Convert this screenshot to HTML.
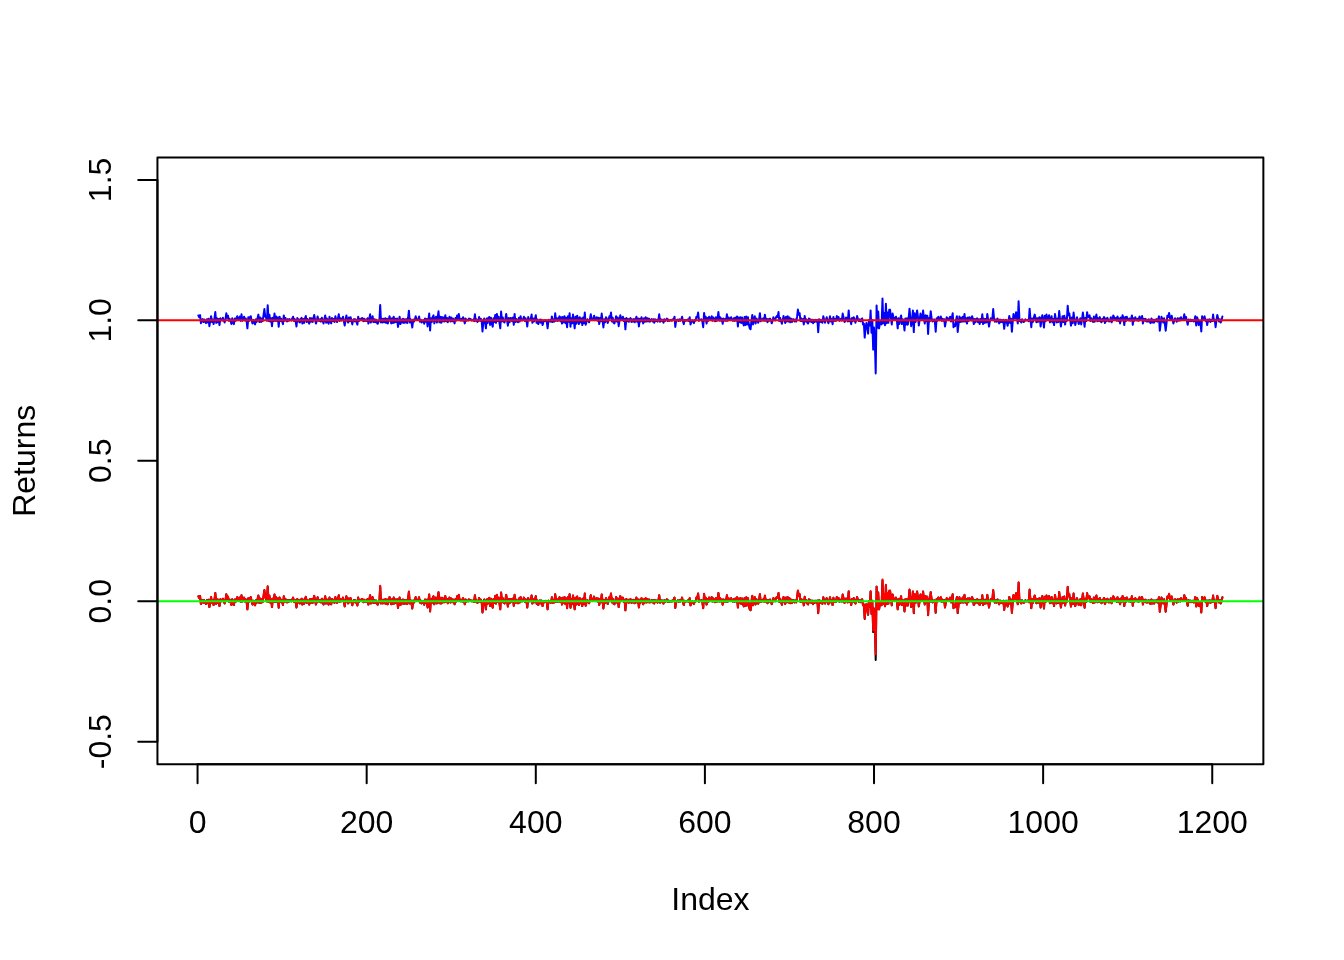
<!DOCTYPE html>
<html><head><meta charset="utf-8"><title>Returns</title>
<style>
html,body{margin:0;padding:0;background:#fff;}
body{width:1344px;height:960px;overflow:hidden;}
svg{display:block;}
text{font-family:"Liberation Sans",sans-serif;font-size:32px;fill:#000;}
</style></head><body>
<svg width="1344" height="960" viewBox="0 0 1344 960">
<rect width="1344" height="960" fill="#fff"/>
<defs><clipPath id="c"><rect x="157.44" y="157.44" width="1105.92" height="606.72"/></clipPath></defs>
<g clip-path="url(#c)" fill="none" stroke-linejoin="round" stroke-linecap="round">
<path d="M198.4 596.4 L199.2 598.1 L200.1 596.0 L200.9 604.1 L201.8 601.2 L202.6 600.0 L203.5 603.0 L204.3 600.3 L205.2 602.4 L206.0 604.0 L206.9 600.1 L207.7 603.3 L208.5 599.7 L209.4 607.1 L210.2 601.8 L211.1 597.1 L211.9 602.7 L212.8 600.4 L213.6 605.0 L214.5 599.3 L215.3 593.1 L216.2 603.8 L217.0 599.2 L217.8 603.1 L218.7 599.7 L219.5 606.1 L220.4 599.2 L221.2 601.0 L222.1 601.3 L222.9 598.7 L223.8 601.4 L224.6 603.4 L225.5 600.2 L226.3 594.3 L227.1 598.6 L228.0 596.6 L228.8 601.6 L229.7 599.7 L230.5 601.7 L231.4 605.0 L232.2 599.2 L233.1 602.8 L233.9 605.0 L234.8 599.4 L235.6 601.7 L236.5 599.1 L237.3 597.1 L238.1 600.2 L239.0 600.8 L239.8 597.5 L240.7 601.8 L241.5 595.3 L242.4 601.6 L243.2 599.9 L244.1 597.6 L244.9 601.5 L245.8 599.4 L246.6 601.5 L247.4 609.3 L248.3 598.2 L249.1 601.8 L250.0 597.9 L250.8 597.1 L251.7 601.5 L252.5 604.5 L253.4 600.7 L254.2 603.0 L255.1 605.3 L255.9 600.2 L256.7 602.8 L257.6 598.9 L258.4 595.6 L259.3 602.9 L260.1 598.4 L261.0 602.9 L261.8 599.3 L262.7 602.1 L263.5 596.4 L264.4 590.2 L265.2 597.4 L266.0 598.3 L266.9 601.5 L267.7 586.6 L268.6 601.9 L269.4 595.7 L270.3 602.5 L271.1 599.0 L272.0 607.1 L272.8 598.7 L273.7 601.9 L274.5 594.6 L275.3 601.8 L276.2 597.3 L277.0 601.8 L277.9 598.4 L278.7 607.7 L279.6 597.6 L280.4 602.0 L281.3 599.7 L282.1 602.2 L283.0 605.0 L283.8 596.3 L284.6 601.7 L285.5 598.9 L286.3 601.7 L287.2 602.4 L288.0 600.0 L288.9 601.6 L289.7 600.0 L290.6 601.0 L291.4 601.3 L292.3 599.4 L293.1 597.6 L294.0 602.0 L294.8 600.0 L295.6 601.9 L296.5 607.5 L297.3 598.9 L298.2 602.5 L299.0 600.3 L299.9 603.4 L300.7 600.1 L301.6 598.7 L302.4 604.5 L303.3 599.8 L304.1 603.8 L304.9 599.4 L305.8 596.9 L306.6 602.8 L307.5 599.9 L308.3 602.4 L309.2 604.5 L310.0 598.9 L310.9 602.7 L311.7 599.1 L312.6 603.0 L313.4 599.5 L314.2 595.9 L315.1 600.6 L315.9 604.5 L316.8 602.0 L317.6 597.3 L318.5 601.0 L319.3 601.9 L320.2 600.0 L321.0 602.5 L321.9 598.7 L322.7 601.5 L323.5 604.5 L324.4 600.2 L325.2 596.3 L326.1 603.6 L326.9 599.4 L327.8 603.1 L328.6 604.5 L329.5 597.6 L330.3 602.5 L331.2 604.3 L332.0 598.9 L332.8 601.9 L333.7 599.9 L334.5 602.9 L335.4 597.1 L336.2 600.8 L337.1 602.9 L337.9 599.8 L338.8 595.3 L339.6 601.9 L340.5 599.2 L341.3 601.3 L342.1 600.5 L343.0 597.6 L343.8 601.8 L344.7 606.4 L345.5 600.8 L346.4 596.3 L347.2 601.2 L348.1 603.4 L348.9 598.4 L349.8 602.2 L350.6 598.2 L351.5 601.5 L352.3 605.3 L353.1 601.1 L354.0 600.0 L354.8 602.2 L355.7 600.3 L356.5 602.9 L357.4 605.5 L358.2 597.6 L359.1 601.8 L359.9 600.0 L360.8 600.8 L361.6 599.2 L362.4 599.0 L363.3 602.2 L364.1 599.7 L365.0 601.9 L365.8 600.5 L366.7 601.9 L367.5 599.1 L368.4 604.5 L369.2 600.2 L370.1 595.3 L370.9 603.5 L371.7 600.5 L372.6 597.1 L373.4 603.0 L374.3 600.1 L375.1 603.1 L376.0 600.5 L376.8 603.5 L377.7 604.7 L378.5 602.7 L379.4 601.3 L380.2 586.3 L381.0 603.4 L381.9 599.7 L382.7 603.4 L383.6 599.7 L384.4 603.2 L385.3 599.1 L386.1 603.8 L387.0 599.6 L387.8 604.3 L388.7 601.1 L389.5 597.1 L390.3 600.3 L391.2 604.3 L392.0 599.2 L392.9 603.9 L393.7 597.6 L394.6 603.4 L395.4 599.6 L396.3 603.0 L397.1 599.3 L398.0 607.9 L398.8 602.7 L399.6 597.6 L400.5 605.0 L401.3 600.3 L402.2 603.5 L403.0 599.6 L403.9 603.9 L404.7 600.2 L405.6 603.5 L406.4 600.0 L407.3 604.0 L408.1 598.9 L408.9 591.7 L409.8 603.4 L410.6 600.1 L411.5 603.2 L412.3 608.5 L413.2 600.5 L414.0 602.5 L414.9 600.3 L415.7 597.1 L416.6 600.5 L417.4 600.8 L418.3 600.3 L419.1 597.3 L419.9 602.6 L420.8 600.6 L421.6 603.4 L422.5 601.6 L423.3 601.3 L424.2 604.7 L425.0 599.4 L425.9 602.7 L426.7 599.8 L427.6 607.5 L428.4 600.5 L429.2 594.6 L430.1 611.4 L430.9 599.1 L431.8 603.0 L432.6 598.1 L433.5 596.3 L434.3 604.3 L435.2 600.0 L436.0 597.6 L436.9 603.4 L437.7 598.4 L438.5 592.3 L439.4 603.2 L440.2 597.7 L441.1 603.6 L441.9 597.8 L442.8 602.5 L443.6 598.5 L444.5 602.3 L445.3 596.1 L446.2 602.1 L447.0 598.9 L447.8 603.2 L448.7 600.0 L449.5 597.6 L450.4 602.5 L451.2 598.4 L452.1 602.3 L452.9 599.4 L453.8 601.6 L454.6 604.3 L455.5 598.9 L456.3 601.5 L457.1 596.3 L458.0 600.3 L458.8 594.9 L459.7 600.5 L460.5 601.3 L461.4 599.7 L462.2 601.5 L463.1 598.2 L463.9 600.8 L464.8 604.3 L465.6 599.4 L466.4 601.6 L467.3 600.6 L468.1 601.4 L469.0 599.4 L469.8 600.2 L470.7 600.0 L471.5 601.2 L472.4 601.3 L473.2 600.4 L474.1 602.0 L474.9 595.3 L475.8 601.7 L476.6 600.5 L477.4 602.9 L478.3 601.4 L479.1 597.9 L480.0 601.8 L480.8 599.6 L481.7 602.1 L482.5 612.5 L483.4 602.3 L484.2 599.4 L485.1 602.9 L485.9 609.3 L486.7 599.5 L487.6 603.9 L488.4 598.7 L489.3 597.9 L490.1 606.0 L491.0 598.7 L491.8 603.8 L492.7 607.7 L493.5 599.1 L494.4 603.0 L495.2 595.9 L496.0 603.6 L496.9 594.9 L497.7 602.0 L498.6 597.7 L499.4 603.2 L500.3 609.3 L501.1 592.5 L502.0 602.3 L502.8 598.3 L503.7 602.5 L504.5 603.4 L505.3 600.3 L506.2 594.9 L507.0 600.9 L507.9 606.6 L508.7 599.0 L509.6 603.2 L510.4 598.9 L511.3 599.2 L512.1 602.0 L513.0 598.5 L513.8 605.8 L514.6 594.9 L515.5 602.9 L516.3 599.7 L517.2 602.4 L518.0 603.2 L518.9 598.6 L519.7 602.5 L520.6 597.1 L521.4 601.2 L522.3 601.3 L523.1 600.2 L523.9 597.6 L524.8 601.8 L525.6 599.2 L526.5 601.7 L527.3 607.5 L528.2 597.9 L529.0 600.7 L529.9 601.3 L530.7 600.2 L531.6 595.6 L532.4 603.6 L533.3 599.3 L534.1 602.3 L534.9 600.0 L535.8 596.1 L536.6 603.7 L537.5 600.4 L538.3 605.0 L539.2 602.1 L540.0 600.4 L540.9 603.6 L541.7 600.6 L542.6 606.1 L543.4 603.0 L544.2 601.1 L545.1 602.0 L545.9 600.9 L546.8 602.5 L547.6 609.3 L548.5 600.7 L549.3 602.3 L550.2 601.0 L551.0 602.7 L551.9 597.3 L552.7 602.9 L553.5 600.3 L554.4 602.4 L555.2 594.3 L556.1 601.7 L556.9 599.1 L557.8 601.9 L558.6 599.6 L559.5 597.3 L560.3 602.1 L561.2 598.2 L562.0 604.5 L562.8 597.8 L563.7 603.1 L564.5 597.1 L565.4 604.1 L566.2 598.6 L567.1 608.2 L567.9 597.2 L568.8 602.6 L569.6 594.3 L570.5 607.7 L571.3 599.2 L572.1 604.2 L573.0 595.6 L573.8 601.6 L574.7 609.3 L575.5 597.7 L576.4 604.6 L577.2 596.6 L578.1 600.5 L578.9 605.0 L579.8 598.2 L580.6 603.2 L581.4 599.5 L582.3 606.1 L583.1 598.4 L584.0 604.1 L584.8 593.6 L585.7 605.8 L586.5 602.6 L587.4 600.2 L588.2 601.0 L589.1 603.2 L589.9 600.0 L590.8 595.3 L591.6 600.5 L592.4 600.8 L593.3 599.6 L594.1 596.6 L595.0 601.1 L595.8 600.1 L596.7 598.2 L597.5 601.6 L598.4 598.6 L599.2 605.0 L600.1 599.0 L600.9 602.2 L601.7 594.6 L602.6 601.5 L603.4 608.5 L604.3 600.1 L605.1 603.1 L606.0 598.2 L606.8 599.9 L607.7 604.0 L608.5 601.2 L609.4 597.1 L610.2 598.5 L611.0 593.6 L611.9 602.3 L612.7 598.7 L613.6 603.7 L614.4 604.3 L615.3 601.2 L616.1 597.1 L617.0 602.5 L617.8 598.4 L618.7 607.1 L619.5 601.5 L620.3 596.1 L621.2 600.3 L622.0 600.3 L622.9 597.6 L623.7 601.9 L624.6 599.8 L625.4 610.3 L626.3 599.0 L627.1 602.3 L628.0 599.8 L628.8 602.7 L629.6 600.4 L630.5 599.0 L631.3 602.8 L632.2 600.3 L633.0 602.5 L633.9 599.9 L634.7 603.2 L635.6 601.0 L636.4 597.6 L637.3 602.6 L638.1 599.4 L638.9 607.5 L639.8 599.7 L640.6 602.5 L641.5 598.2 L642.3 601.0 L643.2 604.3 L644.0 599.2 L644.9 602.6 L645.7 598.2 L646.6 602.4 L647.4 599.1 L648.2 602.3 L649.1 599.5 L649.9 602.6 L650.8 601.0 L651.6 600.0 L652.5 602.4 L653.3 600.2 L654.2 603.6 L655.0 600.1 L655.9 602.0 L656.7 600.6 L657.6 602.6 L658.4 600.7 L659.2 595.3 L660.1 602.7 L660.9 600.1 L661.8 601.8 L662.6 600.6 L663.5 603.6 L664.3 600.2 L665.2 601.8 L666.0 600.8 L666.9 599.4 L667.7 602.0 L668.5 600.5 L669.4 601.8 L670.2 601.3 L671.1 600.8 L671.9 601.6 L672.8 600.2 L673.6 600.5 L674.5 597.6 L675.3 607.9 L676.2 600.9 L677.0 601.5 L677.8 600.4 L678.7 601.9 L679.5 600.2 L680.4 601.5 L681.2 600.5 L682.1 597.6 L682.9 602.2 L683.8 605.0 L684.6 600.8 L685.5 601.5 L686.3 600.9 L687.1 601.5 L688.0 600.2 L688.8 601.9 L689.7 598.2 L690.5 605.3 L691.4 602.7 L692.2 601.3 L693.1 602.4 L693.9 604.0 L694.8 600.9 L695.6 601.5 L696.4 597.6 L697.3 598.3 L698.1 593.6 L699.0 601.8 L699.8 600.3 L700.7 600.8 L701.5 600.2 L702.4 602.5 L703.2 608.2 L704.1 593.9 L704.9 601.5 L705.7 597.7 L706.6 604.5 L707.4 599.0 L708.3 601.7 L709.1 597.6 L710.0 600.8 L710.8 600.7 L711.7 597.1 L712.5 601.6 L713.4 598.4 L714.2 601.4 L715.1 602.2 L715.9 598.2 L716.7 601.8 L717.6 599.6 L718.4 593.1 L719.3 601.6 L720.1 598.1 L721.0 601.6 L721.8 599.5 L722.7 604.7 L723.5 599.5 L724.4 601.6 L725.2 599.9 L726.0 601.8 L726.9 595.3 L727.7 601.7 L728.6 598.4 L729.4 600.8 L730.3 599.5 L731.1 598.2 L732.0 600.8 L732.8 601.6 L733.7 599.2 L734.5 601.8 L735.3 598.5 L736.2 601.5 L737.0 597.3 L737.9 607.5 L738.7 598.4 L739.6 602.9 L740.4 598.2 L741.3 603.9 L742.1 598.4 L743.0 603.8 L743.8 606.4 L744.6 598.0 L745.5 605.9 L746.3 597.3 L747.2 605.3 L748.0 598.2 L748.9 605.7 L749.7 609.3 L750.6 610.2 L751.4 601.8 L752.3 595.9 L753.1 605.3 L753.9 600.8 L754.8 597.2 L755.6 604.4 L756.5 599.3 L757.3 601.1 L758.2 603.6 L759.0 601.0 L759.9 594.2 L760.7 602.1 L761.6 600.3 L762.4 601.3 L763.2 599.3 L764.1 601.7 L764.9 595.7 L765.8 601.6 L766.6 599.8 L767.5 603.2 L768.3 600.0 L769.2 601.6 L770.0 599.5 L770.9 600.9 L771.7 604.2 L772.6 601.7 L773.4 598.1 L774.2 600.6 L775.1 601.3 L775.9 598.4 L776.8 597.0 L777.6 597.9 L778.5 593.1 L779.3 602.0 L780.2 598.8 L781.0 601.9 L781.9 604.7 L782.7 601.0 L783.5 597.0 L784.4 600.5 L785.2 603.9 L786.1 597.6 L786.9 602.3 L787.8 597.2 L788.6 602.4 L789.5 598.3 L790.3 603.2 L791.2 599.6 L792.0 602.9 L792.8 600.1 L793.7 600.2 L794.5 602.4 L795.4 600.5 L796.2 602.4 L797.1 597.6 L797.9 590.7 L798.8 595.7 L799.6 594.2 L800.5 601.8 L801.3 599.3 L802.1 602.0 L803.0 599.9 L803.8 605.3 L804.7 596.8 L805.5 602.3 L806.4 600.2 L807.2 603.3 L808.1 604.4 L808.9 599.3 L809.8 602.3 L810.6 600.3 L811.4 603.0 L812.3 600.7 L813.1 604.2 L814.0 600.7 L814.8 602.7 L815.7 600.7 L816.5 602.5 L817.4 600.6 L818.2 613.3 L819.1 600.2 L819.9 602.9 L820.7 600.7 L821.6 603.1 L822.4 603.6 L823.3 597.2 L824.1 600.4 L825.0 603.6 L825.8 601.1 L826.7 598.1 L827.5 601.2 L828.4 604.2 L829.2 601.3 L830.0 597.2 L830.9 602.3 L831.7 600.0 L832.6 605.1 L833.4 597.8 L834.3 601.8 L835.1 600.0 L836.0 601.8 L836.8 597.0 L837.7 600.7 L838.5 597.9 L839.4 601.7 L840.2 601.3 L841.0 599.6 L841.9 601.6 L842.7 594.5 L843.6 598.5 L844.4 602.8 L845.3 602.2 L846.1 598.4 L847.0 600.2 L847.8 602.4 L848.7 591.4 L849.5 602.1 L850.3 600.0 L851.2 605.1 L852.0 599.0 L852.9 602.0 L853.7 598.1 L854.6 600.4 L855.4 603.6 L856.3 600.7 L857.1 597.0 L858.0 600.4 L858.8 601.9 L859.6 600.3 L860.5 602.2 L861.3 600.1 L862.2 599.3 L863.0 605.3 L863.9 604.5 L864.7 619.0 L865.6 608.5 L866.4 603.9 L867.3 608.4 L868.1 614.8 L868.9 601.0 L869.8 606.4 L870.6 591.4 L871.5 613.9 L872.3 600.8 L873.2 632.1 L874.0 608.5 L874.9 624.7 L875.7 660.1 L876.6 586.8 L877.4 608.8 L878.2 592.5 L879.1 609.4 L879.9 604.0 L880.8 602.7 L881.6 605.3 L882.5 580.3 L883.3 604.1 L884.2 594.1 L885.0 606.3 L885.9 585.2 L886.7 604.2 L887.5 593.5 L888.4 603.6 L889.2 590.9 L890.1 590.8 L890.9 599.0 L891.8 605.3 L892.6 594.6 L893.5 598.3 L894.3 600.8 L895.2 599.6 L896.0 597.6 L896.9 601.5 L897.7 609.3 L898.5 599.0 L899.4 604.8 L900.2 599.8 L901.1 596.3 L901.9 605.0 L902.8 600.1 L903.6 603.4 L904.5 611.4 L905.3 599.3 L906.2 605.4 L907.0 599.2 L907.8 605.6 L908.7 598.9 L909.5 589.8 L910.4 599.2 L911.2 607.1 L912.1 600.9 L912.9 591.5 L913.8 613.3 L914.6 594.2 L915.5 603.0 L916.3 597.7 L917.1 591.5 L918.0 598.4 L918.8 606.4 L919.7 600.6 L920.5 594.6 L921.4 599.3 L922.2 600.3 L923.1 591.5 L923.9 599.5 L924.8 604.5 L925.6 596.1 L926.4 602.2 L927.3 596.7 L928.1 615.2 L929.0 599.0 L929.8 602.0 L930.7 592.2 L931.5 598.5 L932.4 602.4 L933.2 601.8 L934.1 600.2 L934.9 602.9 L935.7 612.8 L936.6 599.0 L937.4 601.6 L938.3 597.6 L939.1 600.8 L940.0 601.1 L940.8 597.3 L941.7 601.7 L942.5 599.6 L943.4 601.7 L944.2 600.1 L945.0 607.5 L945.9 602.2 L946.7 598.2 L947.6 599.5 L948.4 600.8 L949.3 599.4 L950.1 597.6 L951.0 602.4 L951.8 599.0 L952.7 594.3 L953.5 608.2 L954.4 605.5 L955.2 607.1 L956.0 601.4 L956.9 597.1 L957.7 613.1 L958.6 604.5 L959.4 597.3 L960.3 602.9 L961.1 598.7 L962.0 602.6 L962.8 597.6 L963.7 602.5 L964.5 594.9 L965.3 602.5 L966.2 599.0 L967.0 604.5 L967.9 598.4 L968.7 601.8 L969.6 598.2 L970.4 600.3 L971.3 601.3 L972.1 597.1 L973.0 600.0 L973.8 605.0 L974.6 600.0 L975.5 603.2 L976.3 600.0 L977.2 599.2 L978.0 603.2 L978.9 600.1 L979.7 605.0 L980.6 600.0 L981.4 602.8 L982.3 595.3 L983.1 605.0 L983.9 599.7 L984.8 603.8 L985.6 599.8 L986.5 603.3 L987.3 594.9 L988.2 601.6 L989.0 607.5 L989.9 602.0 L990.7 599.2 L991.6 600.8 L992.4 599.5 L993.2 590.2 L994.1 600.4 L994.9 602.6 L995.8 600.4 L996.6 602.6 L997.5 599.4 L998.3 601.8 L999.2 604.3 L1000.0 600.4 L1000.9 603.0 L1001.7 601.0 L1002.5 603.1 L1003.4 600.7 L1004.2 609.8 L1005.1 601.9 L1005.9 600.7 L1006.8 603.0 L1007.6 606.6 L1008.5 601.6 L1009.3 596.9 L1010.2 603.9 L1011.0 599.6 L1011.9 612.8 L1012.7 602.7 L1013.5 595.1 L1014.4 599.3 L1015.2 599.3 L1016.1 593.3 L1016.9 599.8 L1017.8 604.3 L1018.6 582.8 L1019.5 601.9 L1020.3 600.7 L1021.2 603.4 L1022.0 600.2 L1022.8 601.9 L1023.7 602.9 L1024.5 602.0 L1025.4 600.2 L1026.2 601.2 L1027.1 601.3 L1027.9 600.6 L1028.8 602.1 L1029.6 589.8 L1030.5 600.6 L1031.3 608.2 L1032.1 599.3 L1033.0 602.8 L1033.8 598.7 L1034.7 595.6 L1035.5 598.8 L1036.4 603.2 L1037.2 599.2 L1038.1 602.8 L1038.9 598.7 L1039.8 598.2 L1040.6 607.5 L1041.4 601.7 L1042.3 596.1 L1043.1 601.3 L1044.0 608.5 L1044.8 596.8 L1045.7 602.0 L1046.5 595.6 L1047.4 600.3 L1048.2 599.2 L1049.1 596.1 L1049.9 603.2 L1050.7 601.2 L1051.6 597.1 L1052.4 603.2 L1053.3 599.8 L1054.1 606.1 L1055.0 595.1 L1055.8 600.0 L1056.7 603.4 L1057.5 599.5 L1058.4 602.9 L1059.2 592.0 L1060.0 599.8 L1060.9 607.5 L1061.7 601.7 L1062.6 597.1 L1063.4 602.9 L1064.3 596.6 L1065.1 605.5 L1066.0 599.2 L1066.8 601.8 L1067.7 587.0 L1068.5 596.2 L1069.3 594.3 L1070.2 600.8 L1071.0 606.6 L1071.9 598.3 L1072.7 604.1 L1073.6 593.6 L1074.4 600.2 L1075.3 606.1 L1076.1 601.7 L1077.0 598.2 L1077.8 601.2 L1078.7 605.0 L1079.5 602.7 L1080.3 599.2 L1081.2 605.3 L1082.0 600.4 L1082.9 593.6 L1083.7 600.0 L1084.6 607.7 L1085.4 598.8 L1086.3 602.0 L1087.1 593.3 L1088.0 598.2 L1088.8 598.2 L1089.6 596.3 L1090.5 601.9 L1091.3 599.2 L1092.2 601.7 L1093.0 602.9 L1093.9 597.5 L1094.7 602.6 L1095.6 599.2 L1096.4 595.6 L1097.3 602.2 L1098.1 599.0 L1098.9 601.9 L1099.8 598.0 L1100.6 602.2 L1101.5 603.2 L1102.3 599.7 L1103.2 601.7 L1104.0 597.9 L1104.9 604.0 L1105.7 599.5 L1106.6 602.1 L1107.4 598.7 L1108.2 600.8 L1109.1 602.4 L1109.9 601.6 L1110.8 598.2 L1111.6 603.2 L1112.5 600.8 L1113.3 596.3 L1114.2 598.4 L1115.0 600.8 L1115.9 598.9 L1116.7 601.7 L1117.5 597.3 L1118.4 601.8 L1119.2 599.3 L1120.1 604.3 L1120.9 598.5 L1121.8 601.5 L1122.6 596.1 L1123.5 600.0 L1124.3 606.1 L1125.2 597.9 L1126.0 601.7 L1126.8 597.6 L1127.7 600.6 L1128.5 601.1 L1129.4 599.4 L1130.2 601.7 L1131.1 599.8 L1131.9 596.3 L1132.8 605.8 L1133.6 599.1 L1134.5 601.6 L1135.3 598.2 L1136.2 600.7 L1137.0 601.3 L1137.8 599.6 L1138.7 601.7 L1139.5 597.3 L1140.4 600.3 L1141.2 600.3 L1142.1 596.9 L1142.9 604.5 L1143.8 599.7 L1144.6 601.6 L1145.5 599.7 L1146.3 602.5 L1147.1 600.6 L1148.0 602.5 L1148.8 600.2 L1149.7 602.2 L1150.5 604.0 L1151.4 599.4 L1152.2 603.4 L1153.1 600.5 L1153.9 603.6 L1154.8 600.6 L1155.6 602.1 L1156.4 600.0 L1157.3 602.5 L1158.1 600.2 L1159.0 597.3 L1159.8 611.7 L1160.7 604.5 L1161.5 597.6 L1162.4 600.3 L1163.2 603.4 L1164.1 599.2 L1164.9 605.1 L1165.7 611.7 L1166.6 603.4 L1167.4 596.6 L1168.3 597.8 L1169.1 593.9 L1170.0 599.3 L1170.8 600.9 L1171.7 596.6 L1172.5 600.3 L1173.4 604.5 L1174.2 601.7 L1175.0 599.2 L1175.9 600.9 L1176.7 602.6 L1177.6 599.2 L1178.4 601.5 L1179.3 599.3 L1180.1 601.5 L1181.0 598.2 L1181.8 600.7 L1182.7 600.8 L1183.5 599.6 L1184.3 595.3 L1185.2 600.3 L1186.0 597.9 L1186.9 601.8 L1187.7 605.8 L1188.6 600.3 L1189.4 601.8 L1190.3 600.5 L1191.1 602.1 L1192.0 600.7 L1192.8 601.8 L1193.7 602.4 L1194.5 600.6 L1195.3 597.1 L1196.2 606.4 L1197.0 598.2 L1197.9 600.6 L1198.7 606.1 L1199.6 602.3 L1200.4 603.0 L1201.3 612.5 L1202.1 597.1 L1203.0 600.8 L1203.8 599.0 L1204.6 597.3 L1205.5 601.8 L1206.3 600.6 L1207.2 606.1 L1208.0 600.4 L1208.9 602.3 L1209.7 600.2 L1210.6 602.9 L1211.4 600.9 L1212.3 601.9 L1213.1 595.6 L1213.9 601.9 L1214.8 600.8 L1215.6 608.2 L1216.5 600.5 L1217.3 595.9 L1218.2 599.4 L1219.0 602.4 L1219.9 600.2 L1220.7 603.4 L1221.6 601.2 L1222.4 597.3" stroke="#000" stroke-width="2"/>
<path d="M198.4 596.4 L199.2 598.1 L200.1 596.0 L200.9 604.1 L201.8 601.2 L202.6 600.0 L203.5 603.0 L204.3 600.3 L205.2 602.4 L206.0 604.0 L206.9 600.1 L207.7 603.3 L208.5 599.7 L209.4 607.1 L210.2 601.8 L211.1 597.1 L211.9 602.7 L212.8 600.4 L213.6 605.0 L214.5 599.3 L215.3 592.9 L216.2 603.8 L217.0 599.2 L217.8 603.1 L218.7 599.7 L219.5 606.0 L220.4 599.2 L221.2 601.0 L222.1 601.3 L222.9 598.7 L223.8 601.4 L224.6 603.4 L225.5 600.2 L226.3 594.2 L227.1 598.6 L228.0 596.6 L228.8 601.6 L229.7 599.7 L230.5 601.7 L231.4 605.0 L232.2 599.2 L233.1 602.8 L233.9 605.0 L234.8 599.4 L235.6 601.7 L236.5 599.1 L237.3 597.1 L238.1 600.2 L239.0 600.8 L239.8 597.5 L240.7 601.8 L241.5 595.2 L242.4 601.6 L243.2 599.9 L244.1 597.6 L244.9 601.5 L245.8 599.4 L246.6 601.5 L247.4 609.2 L248.3 598.2 L249.1 601.8 L250.0 597.9 L250.8 597.1 L251.7 601.5 L252.5 604.5 L253.4 600.7 L254.2 603.0 L255.1 605.3 L255.9 600.2 L256.7 602.8 L257.6 598.9 L258.4 595.5 L259.3 602.8 L260.1 598.4 L261.0 602.9 L261.8 599.3 L262.7 602.1 L263.5 596.3 L264.4 590.0 L265.2 597.4 L266.0 598.3 L266.9 601.5 L267.7 586.2 L268.6 601.9 L269.4 595.6 L270.3 602.5 L271.1 599.0 L272.0 607.1 L272.8 598.6 L273.7 601.9 L274.5 594.5 L275.3 601.8 L276.2 597.3 L277.0 601.8 L277.9 598.4 L278.7 607.6 L279.6 597.6 L280.4 602.0 L281.3 599.7 L282.1 602.2 L283.0 605.0 L283.8 596.3 L284.6 601.7 L285.5 598.9 L286.3 601.7 L287.2 602.4 L288.0 600.0 L288.9 601.6 L289.7 600.0 L290.6 601.0 L291.4 601.3 L292.3 599.4 L293.1 597.6 L294.0 602.0 L294.8 600.0 L295.6 601.9 L296.5 607.4 L297.3 598.9 L298.2 602.5 L299.0 600.3 L299.9 603.4 L300.7 600.1 L301.6 598.7 L302.4 604.5 L303.3 599.8 L304.1 603.8 L304.9 599.4 L305.8 596.9 L306.6 602.8 L307.5 599.9 L308.3 602.4 L309.2 604.5 L310.0 598.9 L310.9 602.7 L311.7 599.1 L312.6 603.0 L313.4 599.5 L314.2 595.8 L315.1 600.6 L315.9 604.5 L316.8 602.0 L317.6 597.3 L318.5 601.0 L319.3 601.9 L320.2 600.0 L321.0 602.5 L321.9 598.7 L322.7 601.5 L323.5 604.5 L324.4 600.2 L325.2 596.3 L326.1 603.6 L326.9 599.4 L327.8 603.1 L328.6 604.5 L329.5 597.6 L330.3 602.5 L331.2 604.3 L332.0 598.9 L332.8 601.9 L333.7 599.9 L334.5 602.9 L335.4 597.1 L336.2 600.8 L337.1 602.9 L337.9 599.8 L338.8 595.2 L339.6 601.9 L340.5 599.2 L341.3 601.3 L342.1 600.5 L343.0 597.6 L343.8 601.8 L344.7 606.3 L345.5 600.8 L346.4 596.3 L347.2 601.2 L348.1 603.4 L348.9 598.3 L349.8 602.2 L350.6 598.1 L351.5 601.5 L352.3 605.3 L353.1 601.1 L354.0 600.0 L354.8 602.2 L355.7 600.3 L356.5 602.9 L357.4 605.5 L358.2 597.6 L359.1 601.8 L359.9 599.9 L360.8 600.8 L361.6 599.2 L362.4 599.0 L363.3 602.2 L364.1 599.7 L365.0 601.9 L365.8 600.5 L366.7 601.9 L367.5 599.1 L368.4 604.5 L369.2 600.2 L370.1 595.2 L370.9 603.5 L371.7 600.5 L372.6 597.1 L373.4 603.0 L374.3 600.1 L375.1 603.1 L376.0 600.5 L376.8 603.5 L377.7 604.7 L378.5 602.7 L379.4 601.3 L380.2 585.8 L381.0 603.4 L381.9 599.7 L382.7 603.4 L383.6 599.7 L384.4 603.2 L385.3 599.1 L386.1 603.8 L387.0 599.6 L387.8 604.3 L388.7 601.1 L389.5 597.1 L390.3 600.3 L391.2 604.3 L392.0 599.2 L392.9 603.9 L393.7 597.6 L394.6 603.4 L395.4 599.6 L396.3 603.0 L397.1 599.3 L398.0 607.8 L398.8 602.7 L399.6 597.6 L400.5 605.0 L401.3 600.3 L402.2 603.5 L403.0 599.5 L403.9 603.9 L404.7 600.2 L405.6 603.5 L406.4 600.0 L407.3 604.0 L408.1 598.9 L408.9 591.6 L409.8 603.4 L410.6 600.1 L411.5 603.2 L412.3 608.4 L413.2 600.5 L414.0 602.5 L414.9 600.3 L415.7 597.1 L416.6 600.5 L417.4 600.8 L418.3 600.3 L419.1 597.3 L419.9 602.6 L420.8 600.6 L421.6 603.4 L422.5 601.6 L423.3 601.3 L424.2 604.7 L425.0 599.4 L425.9 602.7 L426.7 599.8 L427.6 607.4 L428.4 600.5 L429.2 594.5 L430.1 611.2 L430.9 599.1 L431.8 603.0 L432.6 598.0 L433.5 596.3 L434.3 604.3 L435.2 600.0 L436.0 597.6 L436.9 603.4 L437.7 598.4 L438.5 592.2 L439.4 603.2 L440.2 597.7 L441.1 603.6 L441.9 597.8 L442.8 602.5 L443.6 598.5 L444.5 602.3 L445.3 596.1 L446.2 602.0 L447.0 598.9 L447.8 603.2 L448.7 599.9 L449.5 597.6 L450.4 602.5 L451.2 598.4 L452.1 602.3 L452.9 599.4 L453.8 601.6 L454.6 604.3 L455.5 598.9 L456.3 601.5 L457.1 596.3 L458.0 600.3 L458.8 594.8 L459.7 600.5 L460.5 601.3 L461.4 599.7 L462.2 601.5 L463.1 598.1 L463.9 600.8 L464.8 604.3 L465.6 599.4 L466.4 601.6 L467.3 600.6 L468.1 601.4 L469.0 599.4 L469.8 600.2 L470.7 600.0 L471.5 601.2 L472.4 601.3 L473.2 600.4 L474.1 602.0 L474.9 595.2 L475.8 601.7 L476.6 600.5 L477.4 602.9 L478.3 601.4 L479.1 597.9 L480.0 601.8 L480.8 599.6 L481.7 602.1 L482.5 612.3 L483.4 602.3 L484.2 599.4 L485.1 602.9 L485.9 609.2 L486.7 599.5 L487.6 603.9 L488.4 598.7 L489.3 597.9 L490.1 605.9 L491.0 598.7 L491.8 603.8 L492.7 607.6 L493.5 599.1 L494.4 602.9 L495.2 595.8 L496.0 603.6 L496.9 594.8 L497.7 602.0 L498.6 597.6 L499.4 603.2 L500.3 609.2 L501.1 592.4 L502.0 602.3 L502.8 598.3 L503.7 602.5 L504.5 603.4 L505.3 600.3 L506.2 594.8 L507.0 600.9 L507.9 606.6 L508.7 599.0 L509.6 603.2 L510.4 598.9 L511.3 599.2 L512.1 602.0 L513.0 598.5 L513.8 605.7 L514.6 594.8 L515.5 602.9 L516.3 599.7 L517.2 602.4 L518.0 603.2 L518.9 598.6 L519.7 602.5 L520.6 597.1 L521.4 601.2 L522.3 601.3 L523.1 600.2 L523.9 597.6 L524.8 601.8 L525.6 599.1 L526.5 601.7 L527.3 607.4 L528.2 597.9 L529.0 600.7 L529.9 601.3 L530.7 600.2 L531.6 595.5 L532.4 603.6 L533.3 599.3 L534.1 602.3 L534.9 600.0 L535.8 596.1 L536.6 603.7 L537.5 600.4 L538.3 605.0 L539.2 602.1 L540.0 600.4 L540.9 603.6 L541.7 600.6 L542.6 606.0 L543.4 603.0 L544.2 601.1 L545.1 602.0 L545.9 600.9 L546.8 602.5 L547.6 609.2 L548.5 600.6 L549.3 602.3 L550.2 601.0 L551.0 602.7 L551.9 597.3 L552.7 602.9 L553.5 600.3 L554.4 602.4 L555.2 594.2 L556.1 601.7 L556.9 599.1 L557.8 601.9 L558.6 599.6 L559.5 597.3 L560.3 602.1 L561.2 598.2 L562.0 604.5 L562.8 597.8 L563.7 603.1 L564.5 597.1 L565.4 604.0 L566.2 598.6 L567.1 608.1 L567.9 597.2 L568.8 602.6 L569.6 594.2 L570.5 607.6 L571.3 599.2 L572.1 604.2 L573.0 595.5 L573.8 601.6 L574.7 609.2 L575.5 597.7 L576.4 604.6 L577.2 596.6 L578.1 600.5 L578.9 605.0 L579.8 598.1 L580.6 603.2 L581.4 599.5 L582.3 606.0 L583.1 598.4 L584.0 604.1 L584.8 593.5 L585.7 605.7 L586.5 602.6 L587.4 600.2 L588.2 601.0 L589.1 603.2 L589.9 600.0 L590.8 595.2 L591.6 600.5 L592.4 600.8 L593.3 599.6 L594.1 596.6 L595.0 601.1 L595.8 600.1 L596.7 598.1 L597.5 601.6 L598.4 598.6 L599.2 605.0 L600.1 599.0 L600.9 602.2 L601.7 594.5 L602.6 601.5 L603.4 608.4 L604.3 600.1 L605.1 603.1 L606.0 598.1 L606.8 599.9 L607.7 604.0 L608.5 601.2 L609.4 597.1 L610.2 598.5 L611.0 593.5 L611.9 602.3 L612.7 598.7 L613.6 603.7 L614.4 604.3 L615.3 601.2 L616.1 597.1 L617.0 602.5 L617.8 598.4 L618.7 607.1 L619.5 601.5 L620.3 596.1 L621.2 600.3 L622.0 600.3 L622.9 597.6 L623.7 601.9 L624.6 599.8 L625.4 610.2 L626.3 599.0 L627.1 602.3 L628.0 599.8 L628.8 602.7 L629.6 600.4 L630.5 599.0 L631.3 602.8 L632.2 600.3 L633.0 602.5 L633.9 599.9 L634.7 603.2 L635.6 601.0 L636.4 597.6 L637.3 602.6 L638.1 599.4 L638.9 607.4 L639.8 599.7 L640.6 602.5 L641.5 598.1 L642.3 601.0 L643.2 604.3 L644.0 599.2 L644.9 602.6 L645.7 598.1 L646.6 602.4 L647.4 599.1 L648.2 602.3 L649.1 599.5 L649.9 602.6 L650.8 601.0 L651.6 600.0 L652.5 602.4 L653.3 600.2 L654.2 603.6 L655.0 600.1 L655.9 602.0 L656.7 600.6 L657.6 602.6 L658.4 600.7 L659.2 595.2 L660.1 602.7 L660.9 600.1 L661.8 601.8 L662.6 600.6 L663.5 603.6 L664.3 600.2 L665.2 601.8 L666.0 600.8 L666.9 599.4 L667.7 602.0 L668.5 600.5 L669.4 601.8 L670.2 601.3 L671.1 600.8 L671.9 601.6 L672.8 600.2 L673.6 600.5 L674.5 597.6 L675.3 607.8 L676.2 600.9 L677.0 601.5 L677.8 600.4 L678.7 601.9 L679.5 600.2 L680.4 601.5 L681.2 600.5 L682.1 597.6 L682.9 602.1 L683.8 605.0 L684.6 600.8 L685.5 601.5 L686.3 600.9 L687.1 601.5 L688.0 600.2 L688.8 601.9 L689.7 598.1 L690.5 605.3 L691.4 602.7 L692.2 601.3 L693.1 602.4 L693.9 604.0 L694.8 600.9 L695.6 601.5 L696.4 597.6 L697.3 598.2 L698.1 593.5 L699.0 601.8 L699.8 600.3 L700.7 600.8 L701.5 600.2 L702.4 602.4 L703.2 608.1 L704.1 593.8 L704.9 601.5 L705.7 597.7 L706.6 604.5 L707.4 599.0 L708.3 601.7 L709.1 597.6 L710.0 600.8 L710.8 600.7 L711.7 597.1 L712.5 601.6 L713.4 598.4 L714.2 601.4 L715.1 602.2 L715.9 598.2 L716.7 601.8 L717.6 599.6 L718.4 592.9 L719.3 601.6 L720.1 598.1 L721.0 601.6 L721.8 599.5 L722.7 604.7 L723.5 599.5 L724.4 601.6 L725.2 599.9 L726.0 601.8 L726.9 595.2 L727.7 601.7 L728.6 598.3 L729.4 600.8 L730.3 599.5 L731.1 598.1 L732.0 600.8 L732.8 601.6 L733.7 599.2 L734.5 601.8 L735.3 598.5 L736.2 601.5 L737.0 597.3 L737.9 607.4 L738.7 598.4 L739.6 602.9 L740.4 598.1 L741.3 603.9 L742.1 598.4 L743.0 603.8 L743.8 606.3 L744.6 598.0 L745.5 605.8 L746.3 597.3 L747.2 605.3 L748.0 598.2 L748.9 605.7 L749.7 609.2 L750.6 610.1 L751.4 601.8 L752.3 595.8 L753.1 605.3 L753.9 600.8 L754.8 597.2 L755.6 604.4 L756.5 599.3 L757.3 601.1 L758.2 603.6 L759.0 601.0 L759.9 594.1 L760.7 602.1 L761.6 600.3 L762.4 601.3 L763.2 599.3 L764.1 601.7 L764.9 595.6 L765.8 601.6 L766.6 599.8 L767.5 603.2 L768.3 600.0 L769.2 601.6 L770.0 599.5 L770.9 600.9 L771.7 604.1 L772.6 601.7 L773.4 598.1 L774.2 600.6 L775.1 601.3 L775.9 598.4 L776.8 597.0 L777.6 597.9 L778.5 593.0 L779.3 602.0 L780.2 598.8 L781.0 601.9 L781.9 604.7 L782.7 601.0 L783.5 597.0 L784.4 600.5 L785.2 603.9 L786.1 597.6 L786.9 602.3 L787.8 597.2 L788.6 602.4 L789.5 598.3 L790.3 603.2 L791.2 599.6 L792.0 602.9 L792.8 600.1 L793.7 600.2 L794.5 602.4 L795.4 600.5 L796.2 602.4 L797.1 597.5 L797.9 590.5 L798.8 595.6 L799.6 594.1 L800.5 601.8 L801.3 599.3 L802.1 602.0 L803.0 599.9 L803.8 605.3 L804.7 596.8 L805.5 602.3 L806.4 600.2 L807.2 603.3 L808.1 604.4 L808.9 599.3 L809.8 602.3 L810.6 600.3 L811.4 603.0 L812.3 600.7 L813.1 604.1 L814.0 600.7 L814.8 602.7 L815.7 600.7 L816.5 602.5 L817.4 600.6 L818.2 613.1 L819.1 600.2 L819.9 602.9 L820.7 600.7 L821.6 603.1 L822.4 603.6 L823.3 597.2 L824.1 600.4 L825.0 603.6 L825.8 601.1 L826.7 598.1 L827.5 601.2 L828.4 604.1 L829.2 601.3 L830.0 597.2 L830.9 602.3 L831.7 600.0 L832.6 605.1 L833.4 597.8 L834.3 601.8 L835.1 600.0 L836.0 601.8 L836.8 597.0 L837.7 600.7 L838.5 597.9 L839.4 601.7 L840.2 601.3 L841.0 599.6 L841.9 601.6 L842.7 594.5 L843.6 598.5 L844.4 602.8 L845.3 602.2 L846.1 598.4 L847.0 600.2 L847.8 602.4 L848.7 591.3 L849.5 602.1 L850.3 600.0 L851.2 605.1 L852.0 599.0 L852.9 602.0 L853.7 598.1 L854.6 600.4 L855.4 603.6 L856.3 600.7 L857.1 597.0 L858.0 600.4 L858.8 601.9 L859.6 600.3 L860.5 602.2 L861.3 600.1 L862.2 599.3 L863.0 605.3 L863.9 604.5 L864.7 618.5 L865.6 608.4 L866.4 603.9 L867.3 608.3 L868.1 614.5 L868.9 601.0 L869.8 606.4 L870.6 591.3 L871.5 613.7 L872.3 600.8 L873.2 630.5 L874.0 608.4 L874.9 623.7 L875.7 654.3 L876.6 586.4 L877.4 608.7 L878.2 592.4 L879.1 609.3 L879.9 604.0 L880.8 602.7 L881.6 605.3 L882.5 579.5 L883.3 604.1 L884.2 594.0 L885.0 606.2 L885.9 584.7 L886.7 604.1 L887.5 593.3 L888.4 603.6 L889.2 590.7 L890.1 590.6 L890.9 599.0 L891.8 605.3 L892.6 594.5 L893.5 598.3 L894.3 600.8 L895.2 599.6 L896.0 597.6 L896.9 601.5 L897.7 609.2 L898.5 599.0 L899.4 604.8 L900.2 599.8 L901.1 596.3 L901.9 605.0 L902.8 600.1 L903.6 603.4 L904.5 611.2 L905.3 599.3 L906.2 605.4 L907.0 599.2 L907.8 605.6 L908.7 598.9 L909.5 589.6 L910.4 599.2 L911.2 607.1 L912.1 600.9 L912.9 591.4 L913.8 613.0 L914.6 594.1 L915.5 603.0 L916.3 597.7 L917.1 591.4 L918.0 598.4 L918.8 606.3 L919.7 600.6 L920.5 594.5 L921.4 599.3 L922.2 600.3 L923.1 591.4 L923.9 599.4 L924.8 604.5 L925.6 596.1 L926.4 602.2 L927.3 596.7 L928.1 614.9 L929.0 599.0 L929.8 602.0 L930.7 592.1 L931.5 598.5 L932.4 602.4 L933.2 601.8 L934.1 600.2 L934.9 602.9 L935.7 612.6 L936.6 599.0 L937.4 601.6 L938.3 597.6 L939.1 600.8 L940.0 601.1 L940.8 597.3 L941.7 601.7 L942.5 599.6 L943.4 601.7 L944.2 600.1 L945.0 607.4 L945.9 602.2 L946.7 598.1 L947.6 599.5 L948.4 600.8 L949.3 599.4 L950.1 597.6 L951.0 602.4 L951.8 599.0 L952.7 594.2 L953.5 608.1 L954.4 605.4 L955.2 607.1 L956.0 601.4 L956.9 597.1 L957.7 612.8 L958.6 604.5 L959.4 597.3 L960.3 602.9 L961.1 598.7 L962.0 602.6 L962.8 597.6 L963.7 602.5 L964.5 594.8 L965.3 602.5 L966.2 598.9 L967.0 604.5 L967.9 598.3 L968.7 601.8 L969.6 598.1 L970.4 600.3 L971.3 601.3 L972.1 597.1 L973.0 600.0 L973.8 605.0 L974.6 600.0 L975.5 603.2 L976.3 600.0 L977.2 599.2 L978.0 603.2 L978.9 600.1 L979.7 605.0 L980.6 600.0 L981.4 602.8 L982.3 595.2 L983.1 605.0 L983.9 599.7 L984.8 603.8 L985.6 599.8 L986.5 603.3 L987.3 594.8 L988.2 601.6 L989.0 607.4 L989.9 602.0 L990.7 599.2 L991.6 600.8 L992.4 599.5 L993.2 590.0 L994.1 600.4 L994.9 602.6 L995.8 600.4 L996.6 602.6 L997.5 599.4 L998.3 601.8 L999.2 604.3 L1000.0 600.4 L1000.9 603.0 L1001.7 601.0 L1002.5 603.0 L1003.4 600.7 L1004.2 609.7 L1005.1 601.9 L1005.9 600.7 L1006.8 603.0 L1007.6 606.6 L1008.5 601.6 L1009.3 596.9 L1010.2 603.9 L1011.0 599.6 L1011.9 612.6 L1012.7 602.7 L1013.5 595.0 L1014.4 599.3 L1015.2 599.3 L1016.1 593.1 L1016.9 599.8 L1017.8 604.3 L1018.6 582.2 L1019.5 601.9 L1020.3 600.7 L1021.2 603.4 L1022.0 600.2 L1022.8 601.9 L1023.7 602.9 L1024.5 602.0 L1025.4 600.2 L1026.2 601.2 L1027.1 601.3 L1027.9 600.6 L1028.8 602.1 L1029.6 589.6 L1030.5 600.6 L1031.3 608.1 L1032.1 599.3 L1033.0 602.8 L1033.8 598.7 L1034.7 595.5 L1035.5 598.7 L1036.4 603.2 L1037.2 599.2 L1038.1 602.8 L1038.9 598.7 L1039.8 598.1 L1040.6 607.4 L1041.4 601.7 L1042.3 596.1 L1043.1 601.3 L1044.0 608.4 L1044.8 596.7 L1045.7 602.0 L1046.5 595.5 L1047.4 600.3 L1048.2 599.2 L1049.1 596.1 L1049.9 603.2 L1050.7 601.2 L1051.6 597.1 L1052.4 603.2 L1053.3 599.8 L1054.1 606.0 L1055.0 595.0 L1055.8 600.0 L1056.7 603.4 L1057.5 599.5 L1058.4 602.9 L1059.2 591.9 L1060.0 599.8 L1060.9 607.4 L1061.7 601.7 L1062.6 597.1 L1063.4 602.9 L1064.3 596.6 L1065.1 605.5 L1066.0 599.1 L1066.8 601.8 L1067.7 586.7 L1068.5 596.1 L1069.3 594.2 L1070.2 600.8 L1071.0 606.6 L1071.9 598.3 L1072.7 604.1 L1073.6 593.5 L1074.4 600.2 L1075.3 606.0 L1076.1 601.7 L1077.0 598.1 L1077.8 601.2 L1078.7 605.0 L1079.5 602.7 L1080.3 599.2 L1081.2 605.3 L1082.0 600.4 L1082.9 593.5 L1083.7 600.0 L1084.6 607.6 L1085.4 598.8 L1086.3 602.0 L1087.1 593.1 L1088.0 598.2 L1088.8 598.2 L1089.6 596.3 L1090.5 601.9 L1091.3 599.2 L1092.2 601.7 L1093.0 602.9 L1093.9 597.5 L1094.7 602.6 L1095.6 599.2 L1096.4 595.5 L1097.3 602.2 L1098.1 599.0 L1098.9 601.9 L1099.8 598.0 L1100.6 602.2 L1101.5 603.2 L1102.3 599.7 L1103.2 601.7 L1104.0 597.9 L1104.9 604.0 L1105.7 599.4 L1106.6 602.1 L1107.4 598.7 L1108.2 600.8 L1109.1 602.4 L1109.9 601.6 L1110.8 598.1 L1111.6 603.2 L1112.5 600.8 L1113.3 596.3 L1114.2 598.4 L1115.0 600.8 L1115.9 598.9 L1116.7 601.7 L1117.5 597.3 L1118.4 601.8 L1119.2 599.3 L1120.1 604.3 L1120.9 598.5 L1121.8 601.5 L1122.6 596.1 L1123.5 600.0 L1124.3 606.0 L1125.2 597.9 L1126.0 601.7 L1126.8 597.6 L1127.7 600.6 L1128.5 601.1 L1129.4 599.4 L1130.2 601.7 L1131.1 599.8 L1131.9 596.3 L1132.8 605.7 L1133.6 599.1 L1134.5 601.6 L1135.3 598.1 L1136.2 600.7 L1137.0 601.3 L1137.8 599.6 L1138.7 601.7 L1139.5 597.3 L1140.4 600.3 L1141.2 600.3 L1142.1 596.9 L1142.9 604.5 L1143.8 599.7 L1144.6 601.6 L1145.5 599.7 L1146.3 602.5 L1147.1 600.6 L1148.0 602.5 L1148.8 600.2 L1149.7 602.2 L1150.5 604.0 L1151.4 599.4 L1152.2 603.4 L1153.1 600.5 L1153.9 603.6 L1154.8 600.6 L1155.6 602.1 L1156.4 600.0 L1157.3 602.5 L1158.1 600.2 L1159.0 597.3 L1159.8 611.6 L1160.7 604.5 L1161.5 597.6 L1162.4 600.3 L1163.2 603.4 L1164.1 599.2 L1164.9 605.0 L1165.7 611.6 L1166.6 603.4 L1167.4 596.6 L1168.3 597.8 L1169.1 593.8 L1170.0 599.3 L1170.8 600.9 L1171.7 596.6 L1172.5 600.3 L1173.4 604.5 L1174.2 601.7 L1175.0 599.2 L1175.9 600.9 L1176.7 602.6 L1177.6 599.2 L1178.4 601.5 L1179.3 599.3 L1180.1 601.5 L1181.0 598.1 L1181.8 600.7 L1182.7 600.8 L1183.5 599.6 L1184.3 595.2 L1185.2 600.3 L1186.0 597.9 L1186.9 601.8 L1187.7 605.7 L1188.6 600.3 L1189.4 601.8 L1190.3 600.5 L1191.1 602.1 L1192.0 600.7 L1192.8 601.8 L1193.7 602.4 L1194.5 600.5 L1195.3 597.1 L1196.2 606.3 L1197.0 598.1 L1197.9 600.6 L1198.7 606.0 L1199.6 602.3 L1200.4 603.0 L1201.3 612.3 L1202.1 597.1 L1203.0 600.8 L1203.8 599.0 L1204.6 597.3 L1205.5 601.8 L1206.3 600.6 L1207.2 606.0 L1208.0 600.4 L1208.9 602.3 L1209.7 600.2 L1210.6 602.9 L1211.4 600.9 L1212.3 601.9 L1213.1 595.5 L1213.9 601.9 L1214.8 600.8 L1215.6 608.1 L1216.5 600.5 L1217.3 595.8 L1218.2 599.4 L1219.0 602.4 L1219.9 600.2 L1220.7 603.4 L1221.6 601.2 L1222.4 597.3" stroke="#f00" stroke-width="2"/>
<path d="M157.44 601.24 H1263.36" stroke="#0f0" stroke-width="2"/>
<path d="M198.4 315.5 L199.2 317.2 L200.1 315.1 L200.9 323.2 L201.8 320.3 L202.6 319.1 L203.5 322.1 L204.3 319.4 L205.2 321.5 L206.0 323.1 L206.9 319.3 L207.7 322.4 L208.5 318.8 L209.4 326.2 L210.2 321.0 L211.1 316.2 L211.9 321.9 L212.8 319.5 L213.6 324.1 L214.5 318.4 L215.3 312.0 L216.2 322.9 L217.0 318.3 L217.8 322.2 L218.7 318.9 L219.5 325.1 L220.4 318.3 L221.2 320.1 L222.1 320.5 L222.9 317.8 L223.8 320.5 L224.6 322.5 L225.5 319.3 L226.3 313.3 L227.1 317.7 L228.0 315.7 L228.8 320.7 L229.7 318.8 L230.5 320.8 L231.4 324.1 L232.2 318.3 L233.1 321.9 L233.9 324.1 L234.8 318.5 L235.6 320.8 L236.5 318.2 L237.3 316.2 L238.1 319.3 L239.0 319.9 L239.8 316.6 L240.7 320.9 L241.5 314.3 L242.4 320.7 L243.2 319.0 L244.1 316.7 L244.9 320.6 L245.8 318.5 L246.6 320.6 L247.4 328.3 L248.3 317.3 L249.1 320.9 L250.0 317.0 L250.8 316.2 L251.7 320.6 L252.5 323.6 L253.4 319.9 L254.2 322.1 L255.1 324.4 L255.9 319.3 L256.7 321.9 L257.6 318.0 L258.4 314.6 L259.3 322.0 L260.1 317.5 L261.0 322.0 L261.8 318.4 L262.7 321.2 L263.5 315.5 L264.4 309.1 L265.2 316.5 L266.0 317.4 L266.9 320.7 L267.7 305.3 L268.6 321.0 L269.4 314.7 L270.3 321.6 L271.1 318.2 L272.0 326.2 L272.8 317.8 L273.7 321.0 L274.5 313.6 L275.3 320.9 L276.2 316.4 L277.0 320.9 L277.9 317.5 L278.7 326.7 L279.6 316.7 L280.4 321.1 L281.3 318.8 L282.1 321.3 L283.0 324.1 L283.8 315.4 L284.6 320.8 L285.5 318.0 L286.3 320.8 L287.2 321.5 L288.0 319.1 L288.9 320.7 L289.7 319.1 L290.6 320.1 L291.4 320.5 L292.3 318.5 L293.1 316.7 L294.0 321.1 L294.8 319.1 L295.6 321.0 L296.5 326.5 L297.3 318.0 L298.2 321.6 L299.0 319.4 L299.9 322.5 L300.7 319.2 L301.6 317.8 L302.4 323.6 L303.3 318.9 L304.1 322.9 L304.9 318.5 L305.8 316.0 L306.6 321.9 L307.5 319.0 L308.3 321.5 L309.2 323.6 L310.0 318.0 L310.9 321.8 L311.7 318.2 L312.6 322.1 L313.4 318.6 L314.2 315.0 L315.1 319.8 L315.9 323.6 L316.8 321.1 L317.6 316.4 L318.5 320.2 L319.3 321.0 L320.2 319.1 L321.0 321.6 L321.9 317.8 L322.7 320.6 L323.5 323.6 L324.4 319.3 L325.2 315.4 L326.1 322.7 L326.9 318.5 L327.8 322.2 L328.6 323.6 L329.5 316.7 L330.3 321.6 L331.2 323.4 L332.0 318.0 L332.8 321.0 L333.7 319.0 L334.5 322.0 L335.4 316.2 L336.2 319.9 L337.1 322.0 L337.9 318.9 L338.8 314.3 L339.6 321.0 L340.5 318.3 L341.3 320.5 L342.1 319.6 L343.0 316.7 L343.8 320.9 L344.7 325.5 L345.5 319.9 L346.4 315.4 L347.2 320.3 L348.1 322.5 L348.9 317.5 L349.8 321.3 L350.6 317.2 L351.5 320.6 L352.3 324.4 L353.1 320.2 L354.0 319.1 L354.8 321.4 L355.7 319.4 L356.5 322.0 L357.4 324.6 L358.2 316.7 L359.1 320.9 L359.9 319.1 L360.8 319.9 L361.6 318.3 L362.4 318.1 L363.3 321.3 L364.1 318.8 L365.0 321.0 L365.8 319.6 L366.7 321.0 L367.5 318.2 L368.4 323.6 L369.2 319.4 L370.1 314.3 L370.9 322.6 L371.7 319.6 L372.6 316.2 L373.4 322.1 L374.3 319.2 L375.1 322.2 L376.0 319.6 L376.8 322.6 L377.7 323.8 L378.5 321.8 L379.4 320.4 L380.2 305.0 L381.0 322.5 L381.9 318.8 L382.7 322.5 L383.6 318.8 L384.4 322.3 L385.3 318.2 L386.1 322.9 L387.0 318.7 L387.8 323.4 L388.7 320.2 L389.5 316.2 L390.3 319.4 L391.2 323.4 L392.0 318.3 L392.9 323.0 L393.7 316.7 L394.6 322.5 L395.4 318.7 L396.3 322.1 L397.1 318.4 L398.0 326.9 L398.8 321.8 L399.6 316.7 L400.5 324.1 L401.3 319.4 L402.2 322.6 L403.0 318.7 L403.9 323.0 L404.7 319.3 L405.6 322.6 L406.4 319.1 L407.3 323.1 L408.1 318.0 L408.9 310.7 L409.8 322.5 L410.6 319.2 L411.5 322.3 L412.3 327.5 L413.2 319.6 L414.0 321.6 L414.9 319.4 L415.7 316.2 L416.6 319.6 L417.4 319.9 L418.3 319.4 L419.1 316.4 L419.9 321.7 L420.8 319.7 L421.6 322.5 L422.5 320.7 L423.3 320.4 L424.2 323.8 L425.0 318.5 L425.9 321.8 L426.7 318.9 L427.6 326.5 L428.4 319.6 L429.2 313.6 L430.1 330.4 L430.9 318.2 L431.8 322.1 L432.6 317.2 L433.5 315.4 L434.3 323.4 L435.2 319.1 L436.0 316.7 L436.9 322.5 L437.7 317.5 L438.5 311.3 L439.4 322.3 L440.2 316.8 L441.1 322.8 L441.9 316.9 L442.8 321.6 L443.6 317.6 L444.5 321.5 L445.3 315.2 L446.2 321.2 L447.0 318.0 L447.8 322.3 L448.7 319.1 L449.5 316.7 L450.4 321.6 L451.2 317.5 L452.1 321.4 L452.9 318.5 L453.8 320.7 L454.6 323.4 L455.5 318.0 L456.3 320.6 L457.1 315.4 L458.0 319.4 L458.8 313.9 L459.7 319.6 L460.5 320.5 L461.4 318.8 L462.2 320.6 L463.1 317.2 L463.9 319.9 L464.8 323.4 L465.6 318.5 L466.4 320.7 L467.3 319.7 L468.1 320.5 L469.0 318.5 L469.8 319.3 L470.7 319.1 L471.5 320.4 L472.4 320.5 L473.2 319.5 L474.1 321.1 L474.9 314.3 L475.8 320.8 L476.6 319.6 L477.4 322.0 L478.3 320.6 L479.1 317.0 L480.0 320.9 L480.8 318.7 L481.7 321.2 L482.5 331.4 L483.4 321.4 L484.2 318.5 L485.1 322.0 L485.9 328.3 L486.7 318.6 L487.6 323.0 L488.4 317.8 L489.3 317.0 L490.1 325.0 L491.0 317.8 L491.8 322.9 L492.7 326.7 L493.5 318.2 L494.4 322.1 L495.2 315.0 L496.0 322.8 L496.9 313.9 L497.7 321.1 L498.6 316.8 L499.4 322.3 L500.3 328.3 L501.1 311.5 L502.0 321.4 L502.8 317.4 L503.7 321.6 L504.5 322.5 L505.3 319.4 L506.2 313.9 L507.0 320.0 L507.9 325.7 L508.7 318.1 L509.6 322.3 L510.4 318.0 L511.3 318.3 L512.1 321.2 L513.0 317.6 L513.8 324.8 L514.6 313.9 L515.5 322.0 L516.3 318.9 L517.2 321.6 L518.0 322.3 L518.9 317.7 L519.7 321.6 L520.6 316.2 L521.4 320.3 L522.3 320.5 L523.1 319.3 L523.9 316.7 L524.8 320.9 L525.6 318.3 L526.5 320.8 L527.3 326.5 L528.2 317.0 L529.0 319.8 L529.9 320.5 L530.7 319.3 L531.6 314.6 L532.4 322.8 L533.3 318.4 L534.1 321.4 L534.9 319.1 L535.8 315.2 L536.6 322.8 L537.5 319.5 L538.3 324.1 L539.2 321.2 L540.0 319.5 L540.9 322.7 L541.7 319.7 L542.6 325.1 L543.4 322.1 L544.2 320.2 L545.1 321.1 L545.9 320.0 L546.8 321.6 L547.6 328.3 L548.5 319.8 L549.3 321.4 L550.2 320.1 L551.0 321.8 L551.9 316.4 L552.7 322.0 L553.5 319.4 L554.4 321.5 L555.2 313.3 L556.1 320.8 L556.9 318.2 L557.8 321.0 L558.6 318.7 L559.5 316.4 L560.3 321.2 L561.2 317.3 L562.0 323.6 L562.8 316.9 L563.7 322.2 L564.5 316.2 L565.4 323.2 L566.2 317.7 L567.1 327.2 L567.9 316.3 L568.8 321.7 L569.6 313.3 L570.5 326.7 L571.3 318.3 L572.1 323.3 L573.0 314.6 L573.8 320.7 L574.7 328.3 L575.5 316.8 L576.4 323.7 L577.2 315.7 L578.1 319.6 L578.9 324.1 L579.8 317.2 L580.6 322.3 L581.4 318.6 L582.3 325.1 L583.1 317.5 L584.0 323.2 L584.8 312.6 L585.7 324.8 L586.5 321.7 L587.4 319.3 L588.2 320.1 L589.1 322.3 L589.9 319.1 L590.8 314.3 L591.6 319.6 L592.4 319.9 L593.3 318.7 L594.1 315.7 L595.0 320.2 L595.8 319.2 L596.7 317.2 L597.5 320.7 L598.4 317.7 L599.2 324.1 L600.1 318.1 L600.9 321.3 L601.7 313.6 L602.6 320.7 L603.4 327.5 L604.3 319.2 L605.1 322.2 L606.0 317.2 L606.8 319.0 L607.7 323.1 L608.5 320.3 L609.4 316.2 L610.2 317.6 L611.0 312.6 L611.9 321.5 L612.7 317.8 L613.6 322.8 L614.4 323.4 L615.3 320.3 L616.1 316.2 L617.0 321.6 L617.8 317.5 L618.7 326.2 L619.5 320.6 L620.3 315.2 L621.2 319.4 L622.0 319.4 L622.9 316.7 L623.7 321.0 L624.6 318.9 L625.4 329.3 L626.3 318.1 L627.1 321.4 L628.0 318.9 L628.8 321.8 L629.6 319.5 L630.5 318.1 L631.3 321.9 L632.2 319.4 L633.0 321.6 L633.9 319.0 L634.7 322.3 L635.6 320.1 L636.4 316.7 L637.3 321.7 L638.1 318.5 L638.9 326.5 L639.8 318.8 L640.6 321.6 L641.5 317.2 L642.3 320.1 L643.2 323.4 L644.0 318.3 L644.9 321.7 L645.7 317.2 L646.6 321.5 L647.4 318.2 L648.2 321.4 L649.1 318.6 L649.9 321.7 L650.8 320.1 L651.6 319.1 L652.5 321.5 L653.3 319.3 L654.2 322.8 L655.0 319.2 L655.9 321.1 L656.7 319.7 L657.6 321.7 L658.4 319.8 L659.2 314.3 L660.1 321.8 L660.9 319.2 L661.8 320.9 L662.6 319.7 L663.5 322.8 L664.3 319.3 L665.2 320.9 L666.0 319.9 L666.9 318.5 L667.7 321.1 L668.5 319.6 L669.4 320.9 L670.2 320.5 L671.1 319.9 L671.9 320.7 L672.8 319.3 L673.6 319.6 L674.5 316.7 L675.3 326.9 L676.2 320.0 L677.0 320.7 L677.8 319.5 L678.7 321.0 L679.5 319.3 L680.4 320.6 L681.2 319.6 L682.1 316.7 L682.9 321.3 L683.8 324.1 L684.6 319.9 L685.5 320.6 L686.3 320.0 L687.1 320.6 L688.0 319.3 L688.8 321.0 L689.7 317.2 L690.5 324.4 L691.4 321.8 L692.2 320.4 L693.1 321.5 L693.9 323.1 L694.8 320.0 L695.6 320.6 L696.4 316.7 L697.3 317.4 L698.1 312.6 L699.0 320.9 L699.8 319.4 L700.7 319.9 L701.5 319.3 L702.4 321.6 L703.2 327.2 L704.1 312.9 L704.9 320.6 L705.7 316.8 L706.6 323.6 L707.4 318.1 L708.3 320.8 L709.1 316.7 L710.0 319.9 L710.8 319.8 L711.7 316.2 L712.5 320.7 L713.4 317.5 L714.2 320.5 L715.1 321.3 L715.9 317.3 L716.7 320.9 L717.6 318.7 L718.4 312.0 L719.3 320.7 L720.1 317.2 L721.0 320.7 L721.8 318.6 L722.7 323.8 L723.5 318.6 L724.4 320.7 L725.2 319.0 L726.0 320.9 L726.9 314.3 L727.7 320.8 L728.6 317.5 L729.4 319.9 L730.3 318.6 L731.1 317.2 L732.0 319.9 L732.8 320.7 L733.7 318.3 L734.5 320.9 L735.3 317.6 L736.2 320.6 L737.0 316.4 L737.9 326.5 L738.7 317.5 L739.6 322.0 L740.4 317.2 L741.3 323.0 L742.1 317.5 L743.0 322.9 L743.8 325.5 L744.6 317.1 L745.5 324.9 L746.3 316.4 L747.2 324.4 L748.0 317.3 L748.9 324.8 L749.7 328.3 L750.6 329.2 L751.4 320.9 L752.3 315.0 L753.1 324.4 L753.9 319.9 L754.8 316.3 L755.6 323.5 L756.5 318.4 L757.3 320.2 L758.2 322.7 L759.0 320.1 L759.9 313.2 L760.7 321.2 L761.6 319.4 L762.4 320.4 L763.2 318.4 L764.1 320.8 L764.9 314.7 L765.8 320.7 L766.6 318.9 L767.5 322.3 L768.3 319.1 L769.2 320.8 L770.0 318.6 L770.9 320.1 L771.7 323.3 L772.6 320.8 L773.4 317.2 L774.2 319.8 L775.1 320.4 L775.9 317.5 L776.8 316.1 L777.6 317.0 L778.5 312.1 L779.3 321.1 L780.2 317.9 L781.0 321.0 L781.9 323.8 L782.7 320.1 L783.5 316.1 L784.4 319.6 L785.2 323.0 L786.1 316.7 L786.9 321.4 L787.8 316.3 L788.6 321.5 L789.5 317.4 L790.3 322.3 L791.2 318.8 L792.0 322.0 L792.8 319.2 L793.7 319.3 L794.5 321.5 L795.4 319.6 L796.2 321.5 L797.1 316.7 L797.9 309.6 L798.8 314.7 L799.6 313.2 L800.5 320.9 L801.3 318.4 L802.1 321.2 L803.0 319.0 L803.8 324.4 L804.7 315.9 L805.5 321.4 L806.4 319.3 L807.2 322.4 L808.1 323.5 L808.9 318.4 L809.8 321.4 L810.6 319.4 L811.4 322.1 L812.3 319.8 L813.1 323.3 L814.0 319.9 L814.8 321.9 L815.7 319.8 L816.5 321.7 L817.4 319.8 L818.2 332.2 L819.1 319.3 L819.9 322.0 L820.7 319.8 L821.6 322.2 L822.4 322.7 L823.3 316.3 L824.1 319.5 L825.0 322.7 L825.8 320.2 L826.7 317.2 L827.5 320.3 L828.4 323.3 L829.2 320.4 L830.0 316.3 L830.9 321.4 L831.7 319.1 L832.6 324.2 L833.4 316.9 L834.3 320.9 L835.1 319.1 L836.0 320.9 L836.8 316.1 L837.7 319.8 L838.5 317.0 L839.4 320.9 L840.2 320.4 L841.0 318.7 L841.9 320.7 L842.7 313.6 L843.6 317.6 L844.4 321.9 L845.3 321.3 L846.1 317.5 L847.0 319.3 L847.8 321.5 L848.7 310.4 L849.5 321.2 L850.3 319.1 L851.2 324.2 L852.0 318.1 L852.9 321.1 L853.7 317.2 L854.6 319.5 L855.4 322.7 L856.3 319.8 L857.1 316.1 L858.0 319.5 L858.8 321.0 L859.6 319.4 L860.5 321.3 L861.3 319.2 L862.2 318.4 L863.0 324.4 L863.9 323.6 L864.7 337.6 L865.6 327.6 L866.4 323.0 L867.3 327.4 L868.1 333.6 L868.9 320.1 L869.8 325.5 L870.6 310.4 L871.5 332.8 L872.3 319.9 L873.2 349.6 L874.0 327.6 L874.9 342.9 L875.7 373.4 L876.6 305.6 L877.4 327.8 L878.2 311.5 L879.1 328.4 L879.9 323.1 L880.8 321.8 L881.6 324.4 L882.5 298.6 L883.3 323.2 L884.2 313.1 L885.0 325.3 L885.9 303.8 L886.7 323.3 L887.5 312.5 L888.4 322.7 L889.2 309.8 L890.1 309.8 L890.9 318.1 L891.8 324.4 L892.6 313.6 L893.5 317.4 L894.3 319.9 L895.2 318.7 L896.0 316.7 L896.9 320.6 L897.7 328.3 L898.5 318.2 L899.4 323.9 L900.2 318.9 L901.1 315.4 L901.9 324.1 L902.8 319.2 L903.6 322.5 L904.5 330.4 L905.3 318.4 L906.2 324.5 L907.0 318.3 L907.8 324.7 L908.7 318.0 L909.5 308.7 L910.4 318.3 L911.2 326.2 L912.1 320.0 L912.9 310.5 L913.8 332.1 L914.6 313.2 L915.5 322.1 L916.3 316.8 L917.1 310.5 L918.0 317.5 L918.8 325.5 L919.7 319.7 L920.5 313.6 L921.4 318.4 L922.2 319.4 L923.1 310.5 L923.9 318.6 L924.8 323.6 L925.6 315.2 L926.4 321.3 L927.3 315.8 L928.1 334.0 L929.0 318.1 L929.8 321.2 L930.7 311.2 L931.5 317.6 L932.4 321.5 L933.2 320.9 L934.1 319.3 L934.9 322.0 L935.7 331.7 L936.6 318.2 L937.4 320.7 L938.3 316.7 L939.1 319.9 L940.0 320.2 L940.8 316.4 L941.7 320.8 L942.5 318.7 L943.4 320.8 L944.2 319.2 L945.0 326.5 L945.9 321.3 L946.7 317.2 L947.6 318.6 L948.4 319.9 L949.3 318.5 L950.1 316.7 L951.0 321.5 L951.8 318.1 L952.7 313.3 L953.5 327.2 L954.4 324.5 L955.2 326.2 L956.0 320.5 L956.9 316.2 L957.7 331.9 L958.6 323.6 L959.4 316.4 L960.3 322.0 L961.1 317.8 L962.0 321.7 L962.8 316.7 L963.7 321.6 L964.5 313.9 L965.3 321.6 L966.2 318.1 L967.0 323.6 L967.9 317.5 L968.7 320.9 L969.6 317.2 L970.4 319.4 L971.3 320.5 L972.1 316.2 L973.0 319.1 L973.8 324.1 L974.6 319.1 L975.5 322.3 L976.3 319.1 L977.2 318.3 L978.0 322.3 L978.9 319.2 L979.7 324.1 L980.6 319.1 L981.4 322.0 L982.3 314.3 L983.1 324.1 L983.9 318.8 L984.8 322.9 L985.6 318.9 L986.5 322.4 L987.3 313.9 L988.2 320.7 L989.0 326.5 L989.9 321.2 L990.7 318.3 L991.6 319.9 L992.4 318.6 L993.2 309.1 L994.1 319.5 L994.9 321.7 L995.8 319.5 L996.6 321.7 L997.5 318.5 L998.3 320.9 L999.2 323.4 L1000.0 319.5 L1000.9 322.1 L1001.7 320.1 L1002.5 322.2 L1003.4 319.8 L1004.2 328.8 L1005.1 321.0 L1005.9 319.9 L1006.8 322.1 L1007.6 325.7 L1008.5 320.7 L1009.3 316.0 L1010.2 323.0 L1011.0 318.7 L1011.9 331.7 L1012.7 321.8 L1013.5 314.1 L1014.4 318.4 L1015.2 318.4 L1016.1 312.2 L1016.9 318.9 L1017.8 323.4 L1018.6 301.3 L1019.5 321.0 L1020.3 319.8 L1021.2 322.5 L1022.0 319.3 L1022.8 321.0 L1023.7 322.0 L1024.5 321.2 L1025.4 319.3 L1026.2 320.3 L1027.1 320.5 L1027.9 319.7 L1028.8 321.2 L1029.6 308.7 L1030.5 319.7 L1031.3 327.2 L1032.1 318.4 L1033.0 321.9 L1033.8 317.8 L1034.7 314.6 L1035.5 317.9 L1036.4 322.3 L1037.2 318.3 L1038.1 321.9 L1038.9 317.8 L1039.8 317.2 L1040.6 326.5 L1041.4 320.9 L1042.3 315.2 L1043.1 320.4 L1044.0 327.5 L1044.8 315.8 L1045.7 321.2 L1046.5 314.6 L1047.4 319.4 L1048.2 318.3 L1049.1 315.2 L1049.9 322.3 L1050.7 320.3 L1051.6 316.2 L1052.4 322.3 L1053.3 318.9 L1054.1 325.1 L1055.0 314.1 L1055.8 319.1 L1056.7 322.5 L1057.5 318.6 L1058.4 322.0 L1059.2 311.0 L1060.0 318.9 L1060.9 326.5 L1061.7 320.8 L1062.6 316.2 L1063.4 322.0 L1064.3 315.7 L1065.1 324.6 L1066.0 318.3 L1066.8 320.9 L1067.7 305.8 L1068.5 315.2 L1069.3 313.3 L1070.2 319.9 L1071.0 325.7 L1071.9 317.4 L1072.7 323.2 L1073.6 312.6 L1074.4 319.3 L1075.3 325.1 L1076.1 320.8 L1077.0 317.2 L1077.8 320.3 L1078.7 324.1 L1079.5 321.8 L1080.3 318.3 L1081.2 324.4 L1082.0 319.5 L1082.9 312.6 L1083.7 319.1 L1084.6 326.7 L1085.4 317.9 L1086.3 321.1 L1087.1 312.2 L1088.0 317.3 L1088.8 317.3 L1089.6 315.4 L1090.5 321.0 L1091.3 318.3 L1092.2 320.8 L1093.0 322.0 L1093.9 316.6 L1094.7 321.7 L1095.6 318.3 L1096.4 314.6 L1097.3 321.3 L1098.1 318.1 L1098.9 321.0 L1099.8 317.1 L1100.6 321.3 L1101.5 322.3 L1102.3 318.8 L1103.2 320.8 L1104.0 317.0 L1104.9 323.1 L1105.7 318.6 L1106.6 321.2 L1107.4 317.8 L1108.2 319.9 L1109.1 321.5 L1109.9 320.7 L1110.8 317.2 L1111.6 322.3 L1112.5 319.9 L1113.3 315.4 L1114.2 317.5 L1115.0 319.9 L1115.9 318.0 L1116.7 320.8 L1117.5 316.4 L1118.4 320.9 L1119.2 318.4 L1120.1 323.4 L1120.9 317.6 L1121.8 320.6 L1122.6 315.2 L1123.5 319.1 L1124.3 325.1 L1125.2 317.0 L1126.0 320.9 L1126.8 316.7 L1127.7 319.7 L1128.5 320.2 L1129.4 318.5 L1130.2 320.8 L1131.1 318.9 L1131.9 315.4 L1132.8 324.8 L1133.6 318.2 L1134.5 320.7 L1135.3 317.2 L1136.2 319.8 L1137.0 320.5 L1137.8 318.7 L1138.7 320.8 L1139.5 316.4 L1140.4 319.4 L1141.2 319.4 L1142.1 316.0 L1142.9 323.6 L1143.8 318.8 L1144.6 320.7 L1145.5 318.8 L1146.3 321.6 L1147.1 319.7 L1148.0 321.6 L1148.8 319.3 L1149.7 321.3 L1150.5 323.1 L1151.4 318.5 L1152.2 322.5 L1153.1 319.6 L1153.9 322.8 L1154.8 319.7 L1155.6 321.2 L1156.4 319.1 L1157.3 321.6 L1158.1 319.3 L1159.0 316.4 L1159.8 330.7 L1160.7 323.6 L1161.5 316.7 L1162.4 319.4 L1163.2 322.5 L1164.1 318.3 L1164.9 324.2 L1165.7 330.7 L1166.6 322.5 L1167.4 315.7 L1168.3 316.9 L1169.1 312.9 L1170.0 318.4 L1170.8 320.0 L1171.7 315.7 L1172.5 319.4 L1173.4 323.6 L1174.2 320.8 L1175.0 318.3 L1175.9 320.0 L1176.7 321.7 L1177.6 318.3 L1178.4 320.6 L1179.3 318.4 L1180.1 320.6 L1181.0 317.2 L1181.8 319.8 L1182.7 319.9 L1183.5 318.7 L1184.3 314.3 L1185.2 319.4 L1186.0 317.0 L1186.9 320.9 L1187.7 324.8 L1188.6 319.4 L1189.4 321.0 L1190.3 319.6 L1191.1 321.2 L1192.0 319.9 L1192.8 321.0 L1193.7 321.5 L1194.5 319.7 L1195.3 316.2 L1196.2 325.5 L1197.0 317.2 L1197.9 319.7 L1198.7 325.1 L1199.6 321.4 L1200.4 322.1 L1201.3 331.4 L1202.1 316.2 L1203.0 319.9 L1203.8 318.1 L1204.6 316.4 L1205.5 320.9 L1206.3 319.7 L1207.2 325.1 L1208.0 319.5 L1208.9 321.4 L1209.7 319.3 L1210.6 322.0 L1211.4 320.0 L1212.3 321.0 L1213.1 314.6 L1213.9 321.0 L1214.8 319.9 L1215.6 327.2 L1216.5 319.7 L1217.3 315.0 L1218.2 318.5 L1219.0 321.5 L1219.9 319.3 L1220.7 322.5 L1221.6 320.4 L1222.4 316.4" stroke="#00f" stroke-width="2"/>
<path d="M157.44 320.36 H1263.36" stroke="#f00" stroke-width="2"/>
</g>
<g fill="none" stroke="#000" stroke-width="2" stroke-linecap="round" stroke-linejoin="round">
<path d="M197.55 764.16 H1212.25 M197.55 764.16 V783.36 M366.67 764.16 V783.36 M535.79 764.16 V783.36 M704.90 764.16 V783.36 M874.02 764.16 V783.36 M1043.14 764.16 V783.36 M1212.25 764.16 V783.36 M157.44 741.69 V179.91 M157.44 741.69 H138.24 M157.44 601.24 H138.24 M157.44 460.80 H138.24 M157.44 320.36 H138.24 M157.44 179.91 H138.24"/>
<rect x="157.44" y="157.44" width="1105.92" height="606.72"/>
</g>
<g text-anchor="middle">
<text x="197.55" y="832.9">0</text>
<text x="366.67" y="832.9">200</text>
<text x="535.79" y="832.9">400</text>
<text x="704.90" y="832.9">600</text>
<text x="874.02" y="832.9">800</text>
<text x="1043.14" y="832.9">1000</text>
<text x="1212.25" y="832.9">1200</text>
<text x="710.40" y="909.8">Index</text>
<text transform="translate(111.3 741.69) rotate(-90)">-0.5</text>
<text transform="translate(111.3 601.24) rotate(-90)">0.0</text>
<text transform="translate(111.3 460.80) rotate(-90)">0.5</text>
<text transform="translate(111.3 320.36) rotate(-90)">1.0</text>
<text transform="translate(111.3 179.91) rotate(-90)">1.5</text>
<text transform="translate(35.3 460.80) rotate(-90)">Returns</text>
</g></svg></body></html>
